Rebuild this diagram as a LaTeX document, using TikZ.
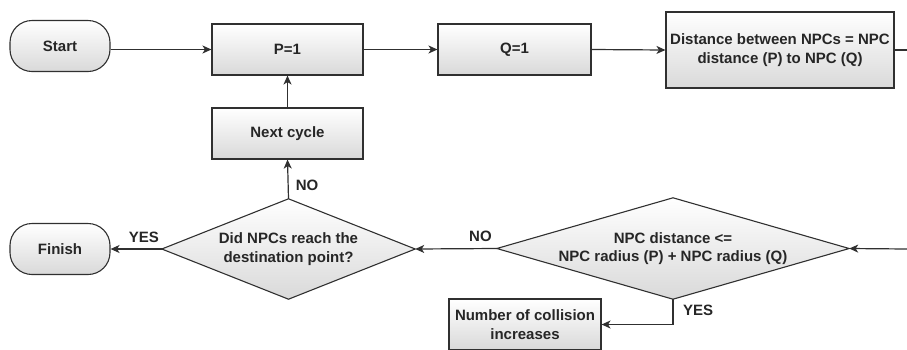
\documentclass[tikz,border=0pt]{standalone}
\usepackage{fontspec}
\setmainfont{Liberation Sans}
\usetikzlibrary{arrows.meta,backgrounds}
\definecolor{lineC}{HTML}{303030}
\definecolor{fillB}{HTML}{D9D9D9}
\definecolor{txtC}{HTML}{262626}
\begin{document}
\begin{tikzpicture}[x=1pt,y=-1pt,
  every node/.style={font=\fontsize{15}{18.5}\selectfont\bfseries, text=txtC, align=center, inner sep=0pt},
  box/.style={draw=lineC, line width=1.1pt, top color=white, bottom color=fillB},
  term/.style={box, rounded corners=22pt, minimum width=100pt, minimum height=51pt},
  proc/.style={box, minimum height=51pt},
  diatext/.style={draw=none},
  diafill/.style={draw=lineC, line width=1.1pt, top color=white, bottom color=fillB},
  conn/.style={draw=lineC, line width=1.2pt, -{Stealth[length=9pt,width=8pt,inset=2.5pt]}},
  plain/.style={draw=lineC, line width=1.2pt},
  lbl/.style={font=\fontsize{15}{18}\selectfont\bfseries}
]
\useasboundingbox (0,0) rectangle (907,349);

\node[term] (start) at (60,46) {Start};
\node[proc, minimum width=151pt] (p) at (287.5,49.5) {P=1};
\node[proc, minimum width=153pt] (q) at (514.5,49.5) {Q=1};
\node[proc, minimum width=228pt, minimum height=76pt] (dist) at (780,50) {Distance between NPCs = NPC\\distance (P) to NPC (Q)};
\node[proc, minimum width=151pt] (next) at (287.5,133.5) {Next cycle};
\node[diatext, minimum width=253pt, minimum height=100pt] (d1) at (288.5,249) {Did NPCs reach the\\destination point?};
\node[term] (finish) at (60,249) {Finish};
\node[diatext, minimum width=352pt, minimum height=101pt] (d2) at (673,248.5) {NPC distance <=\\NPC radius (P) + NPC radius (Q)};
\node[proc, minimum width=152pt] (coll) at (525,324.5) {Number of collision\\increases};

\begin{scope}[on background layer]
  \path[diafill] (d1.north) -- (d1.east) -- (d1.south) -- (d1.west) -- cycle;
  \path[diafill] (d2.north) -- (d2.east) -- (d2.south) -- (d2.west) -- cycle;
\end{scope}

\coordinate (outR) at (907,50);
\coordinate (inR) at (907,249);

\draw[conn] (start.east |- p.west) -- (p.west);
\draw[conn] (p.east) -- (q.west);
\draw[conn] (q.east) -- (dist.west);
\draw[plain] (dist.east |- outR) -- (outR);
\draw[conn] (inR) -- (d2.east);
\draw[conn] (d2.west) -- node[lbl, pos=0.2, above=6pt] {NO} (d1.east);
\draw[conn] (d1.north) -- node[lbl, pos=0.35, right=7pt] {NO} (next.south);
\draw[conn] (next.north) -- (p.south);
\draw[conn] (d1.west) -- node[lbl, pos=0.35, above=6pt] {YES} (finish.east);
\draw[conn] (d2.south) |- (coll.east);
\node[lbl, anchor=west] (yes2) at (683,310) {YES};
\end{tikzpicture}
\end{document}
